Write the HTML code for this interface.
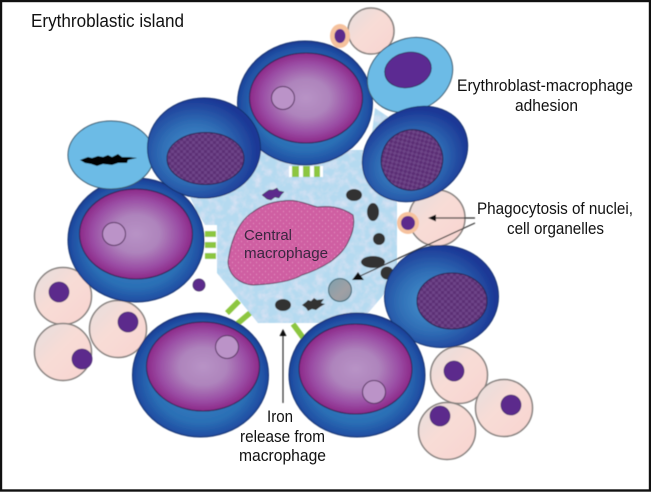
<!DOCTYPE html>
<html><head><meta charset="utf-8"><style>
html,body{margin:0;padding:0;background:#fff}
svg{display:block}
text{font-family:"Liberation Sans",sans-serif;fill:#111}
</style></head><body>
<svg width="651" height="492" viewBox="0 0 651 492" xmlns="http://www.w3.org/2000/svg">
<defs>
<radialGradient id="ob" cx="50%" cy="52%" r="52%"><stop offset="0" stop-color="#3f8ccb"/><stop offset=".7" stop-color="#2b6fb5"/><stop offset=".92" stop-color="#1f4da2"/><stop offset="1" stop-color="#1b3a92"/></radialGradient>
<radialGradient id="db" cx="42%" cy="55%" r="55%"><stop offset="0" stop-color="#4a9ad2"/><stop offset=".55" stop-color="#2f6db5"/><stop offset="1" stop-color="#1c3896"/></radialGradient>
<radialGradient id="pu" cx="50%" cy="50%" r="52%"><stop offset="0" stop-color="#b893c6"/><stop offset=".4" stop-color="#ae84bc"/><stop offset=".75" stop-color="#9a4ca4"/><stop offset="1" stop-color="#8a2283"/></radialGradient>
<linearGradient id="pk" x1="0" y1="0" x2="1" y2="1"><stop offset="0" stop-color="#e4dedd"/><stop offset=".45" stop-color="#f8dcd6"/><stop offset="1" stop-color="#f8d4d0"/></linearGradient>
<linearGradient id="gr" x1="0" y1="0" x2="1" y2="1"><stop offset="0" stop-color="#7da0ae"/><stop offset=".6" stop-color="#a0a0a4"/><stop offset="1" stop-color="#8a9aa4"/></linearGradient>
<pattern id="chk" width="6" height="6" patternUnits="userSpaceOnUse"><rect width="6" height="6" fill="#6d4487"/><rect width="3" height="3" fill="#5c2f74"/><rect x="3" y="3" width="3" height="3" fill="#5c2f74"/></pattern>
<pattern id="dots" width="6" height="6" patternUnits="userSpaceOnUse"><rect width="6" height="6" fill="#cf5fa2"/><circle cx="1.5" cy="1.5" r=".6" fill="#e590c2"/><circle cx="4.5" cy="4.5" r=".6" fill="#e590c2"/></pattern>
<filter id="mot" x="0" y="0" width="100%" height="100%"><feTurbulence type="fractalNoise" baseFrequency=".13" numOctaves="3" seed="4"/><feColorMatrix values="0 0 0 0 .80  0 0 0 0 .80  0 0 0 0 .92  1.4 0 0 0 -.55"/><feComposite in2="SourceAlpha" operator="in" result="n"/><feMerge><feMergeNode in="SourceGraphic"/><feMergeNode in="n"/></feMerge></filter>
<filter id="bl" x="-2%" y="-2%" width="104%" height="104%"><feGaussianBlur stdDeviation=".4"/></filter>
</defs>
<rect width="651" height="492" fill="#fff"/>
<g filter="url(#bl)">
<!-- macrophage body -->
<polygon filter="url(#mot)" fill="#b5daf0" points="190,197 215,192 250,150 370,150 375,108 390,118 397,190 397,279 368,313 350,323 258,323 217,273 217,225 205,225 196,210"/>
<!-- green adhesion stripes -->
<rect x="289" y="166" width="34" height="11" fill="#fff"/>
<rect x="205" y="226" width="12" height="38" fill="#fff"/>
<g fill="#8cc63f">
<rect x="292" y="166" width="7" height="11"/><rect x="303" y="166" width="7" height="11"/><rect x="314" y="166" width="6" height="11"/>
<rect x="205" y="231" width="11" height="6"/><rect x="205" y="242" width="11" height="6"/><rect x="205" y="253" width="11" height="6"/>
</g>
<g stroke="#8cc63f" stroke-width="5.5" fill="none">
<line x1="227" y1="313" x2="239" y2="301"/><line x1="237" y1="324" x2="250" y2="313"/><line x1="293" y1="324" x2="304" y2="339"/>
</g>
<!-- central macrophage -->
<path d="M228,262 C231,238 240,220 253,212 C262,205 272,202 283,201 C295,199 304,203 317,207 C328,206 340,206 353,215 C355,224 353,232 349,240 C345,250 338,256 330,262 C322,267 312,272 302,275 C292,281 275,284 253,285 C240,284 229,276 228,262 Z" fill="url(#dots)" stroke="#5b3a5c" stroke-width="1"/>
<!-- organelles -->
<g fill="#333">
<ellipse cx="354" cy="195" rx="8" ry="6"/><ellipse cx="373" cy="212" rx="6" ry="9"/><ellipse cx="379" cy="239" rx="6" ry="6"/><ellipse cx="373" cy="262" rx="12" ry="6"/><ellipse cx="387" cy="273" rx="6.5" ry="6.5"/><ellipse cx="283" cy="305" rx="8" ry="6"/>
<polygon points="302,305 306,302 308,300 311,301 314,298 317,300 324,299 321,303 325,304 320,307 316,310 312,309 308,311 306,308"/>
</g>
<polygon fill="#5b2a8c" stroke="#222" stroke-width=".5" points="262,195 266,192 269,190 273,190 277,188 279,191 284,192 281,195 279,198 275,197 271,200 267,199"/>
<circle cx="340" cy="290" r="11.5" fill="url(#gr)" stroke="#35606e" stroke-width="1"/>
<circle cx="199" cy="285" r="6" fill="#5b2a8c" stroke="#3b2a5c" stroke-width=".7"/>
<!-- pink cells -->
<g fill="url(#pk)" stroke="#85807e" stroke-width="1.5">
<circle cx="371" cy="31" r="23"/><circle cx="437" cy="218" r="28"/>
<circle cx="63" cy="296" r="28.5"/><circle cx="118" cy="329" r="28.5"/><circle cx="63" cy="352" r="28.5"/>
<circle cx="459" cy="375" r="28.5"/><circle cx="504" cy="408" r="28.5"/><circle cx="447" cy="431" r="28.5"/>
</g>
<g fill="#5b2a8c" stroke="#47266f" stroke-width=".8">
<circle cx="59" cy="292" r="10"/><circle cx="128" cy="322" r="10"/><circle cx="82" cy="359" r="10"/>
<circle cx="454" cy="371" r="10"/><circle cx="511" cy="405" r="10"/><circle cx="440" cy="416" r="10"/>
</g>
<ellipse cx="340" cy="36" rx="10" ry="12" fill="#f6c29e"/><ellipse cx="340" cy="36" rx="5.5" ry="7" fill="#5b2a8c"/>
<circle cx="408" cy="223" r="11" fill="#f6c29e"/><circle cx="408" cy="223" r="7" fill="#5b2a8c"/>
<!-- arrows -->
<g stroke="#333" stroke-width="1.2" fill="none">
<line x1="475" y1="218" x2="432" y2="218"/><line x1="475" y1="223" x2="358" y2="277"/><line x1="283" y1="403" x2="283" y2="335"/>
</g>
<polygon points="428,218 436,214.5 436,221.5" fill="#111"/>
<polygon points="352,280 364,280 358,272" fill="#111"/>
<polygon points="283,329 279.5,336 286.5,336" fill="#111"/>
<!-- big cell B + light blue H -->
<ellipse cx="136" cy="240" rx="68" ry="62" fill="url(#ob)" stroke="#14306e" stroke-width="1"/>
<ellipse cx="136" cy="234" rx="56.5" ry="45" fill="url(#pu)" stroke="#2a2050" stroke-width="1"/>
<circle cx="114" cy="234" r="11.5" fill="#bb93c8" stroke="#54305f" stroke-width="1"/>
<ellipse cx="111" cy="155" rx="43" ry="34" fill="#6cbbe6" stroke="#3a5468" stroke-width="1"/>
<polygon fill="#050505" points="80,160 88,157 92,158 98,156 103,157 108,155 112,157 118,154 122,157 129,157 137,158 128,160 127,163 118,163 112,165 103,164 97,166 91,164 85,163"/>
<!-- top cell A -->
<ellipse cx="305" cy="103" rx="67.5" ry="62" fill="url(#ob)" stroke="#14306e" stroke-width="1"/>
<ellipse cx="306" cy="98" rx="56.5" ry="45" fill="url(#pu)" stroke="#2a2050" stroke-width="1"/>
<circle cx="283" cy="98" r="11.5" fill="#bb93c8" stroke="#54305f" stroke-width="1"/>
<!-- dark blue E -->
<ellipse cx="204" cy="148" rx="56.5" ry="50" fill="url(#db)" stroke="#14306e" stroke-width="1"/>
<ellipse cx="205.5" cy="158.5" rx="38.5" ry="26" fill="url(#chk)" stroke="#2a2050" stroke-width="1"/>
<!-- light blue I -->
<ellipse cx="410" cy="75" rx="44" ry="36" transform="rotate(-25 410 75)" fill="#6cbbe6" stroke="#3a5468" stroke-width="1"/>
<ellipse cx="408" cy="70" rx="23.5" ry="17.5" transform="rotate(-12 408 70)" fill="#5c2a92" stroke="#2a2050" stroke-width=".8"/>
<!-- dark blue F -->
<ellipse cx="415" cy="154" rx="55" ry="45" transform="rotate(-30 415 154)" fill="url(#db)" stroke="#14306e" stroke-width="1"/>
<ellipse cx="412" cy="160" rx="31" ry="30" transform="rotate(-30 412 160)" fill="url(#chk)" stroke="#2a2050" stroke-width="1"/>
<!-- dark blue G -->
<ellipse cx="441.5" cy="296.5" rx="57" ry="51" fill="url(#db)" stroke="#14306e" stroke-width="1"/>
<ellipse cx="452" cy="301" rx="35" ry="28" fill="url(#chk)" stroke="#2a2050" stroke-width="1"/>
<!-- big cell C -->
<ellipse cx="200.5" cy="375" rx="68" ry="62" fill="url(#ob)" stroke="#14306e" stroke-width="1"/>
<ellipse cx="203" cy="366.5" rx="56.5" ry="44.5" fill="url(#pu)" stroke="#2a2050" stroke-width="1"/>
<circle cx="227" cy="347" r="11.5" fill="#bb93c8" stroke="#54305f" stroke-width="1"/>
<!-- big cell D -->
<ellipse cx="357" cy="375" rx="68" ry="62" fill="url(#ob)" stroke="#14306e" stroke-width="1"/>
<ellipse cx="355.5" cy="369" rx="56.5" ry="45" fill="url(#pu)" stroke="#2a2050" stroke-width="1"/>
<circle cx="374" cy="392" r="11.5" fill="#bb93c8" stroke="#54305f" stroke-width="1"/>
</g>
<!-- labels -->
<text x="244" y="240" font-size="15" textLength="48" lengthAdjust="spacingAndGlyphs" style="fill:#3a2640">Central</text>
<text x="244" y="258" font-size="15" textLength="84" lengthAdjust="spacingAndGlyphs" style="fill:#3a2640">macrophage</text>
<text x="31" y="27" font-size="18" textLength="153" lengthAdjust="spacingAndGlyphs">Erythroblastic island</text>
<text x="457" y="91" font-size="16.5" textLength="176" lengthAdjust="spacingAndGlyphs">Erythroblast-macrophage</text>
<text x="515" y="111" font-size="16.5" textLength="63" lengthAdjust="spacingAndGlyphs">adhesion</text>
<text x="477" y="214" font-size="16.5" textLength="156" lengthAdjust="spacingAndGlyphs">Phagocytosis of nuclei,</text>
<text x="507" y="234" font-size="16.5" textLength="97" lengthAdjust="spacingAndGlyphs">cell organelles</text>
<text x="267" y="422" font-size="16.5" textLength="26" lengthAdjust="spacingAndGlyphs">Iron</text>
<text x="240" y="442" font-size="16.5" textLength="85" lengthAdjust="spacingAndGlyphs">release from</text>
<text x="239" y="461" font-size="16.5" textLength="87" lengthAdjust="spacingAndGlyphs">macrophage</text>
<!-- frame -->
<rect x="1" y="1" width="649" height="489.5" fill="none" stroke="#111" stroke-width="2.4"/>
</svg>
</body></html>
